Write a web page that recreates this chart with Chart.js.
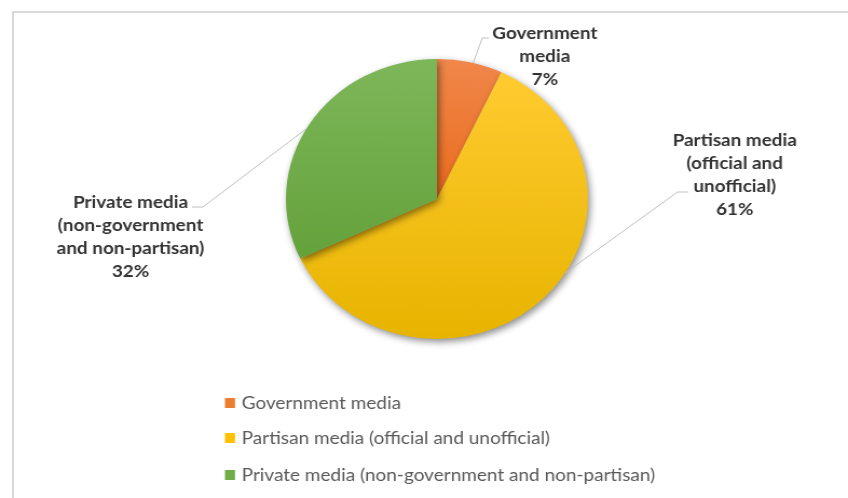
<!DOCTYPE html>
<html>
<head>
<meta charset="utf-8">
<title>Media ownership</title>
<script src="https://cdn.jsdelivr.net/npm/chart.js@4.4.0/dist/chart.umd.min.js"></script>
<style>
  html, body { margin: 0; padding: 0; background: #ffffff; overflow: hidden; }
  /* drawn at 786px wide and stretched to fill the 848px slot */
  #wrap { width: 786px; height: 498px; transform: scaleX(1.0789); transform-origin: 0 0; }
</style>
</head>
<body>
<div id="wrap"><canvas id="mediaPie" width="786" height="498"></canvas></div>
<script>
// --- Data ---
const categories = [
    'Government media',
    'Partisan media (official and unofficial)',
    'Private media (non-government and non-partisan)'
];
const shares = [7, 61, 32];

// wrapped versions of the category names used for the slice labels
const labelLines = [
    ['Government', 'media'],
    ['Partisan media', '(official and', 'unofficial)'],
    ['Private media', '(non-government', 'and non-partisan)']
];

// --- Styling ---
const solidColors = ['#ED7D31', '#FFC000', '#70AD47'];
const gradientStops = [
    ['#F0874A', '#EB6C1E'],
    ['#FFCB30', '#E7B400'],
    ['#7EB75A', '#64A23B']
];

// label placement: text centre, first line y, elbow of the leader line, and
// where along the slice the leader meets the edge (0..1)
const labelLayout = [
    { x: 505, y: 33, elbow: [447, 38], end: [453, 38], along: 0.55 },
    { x: 681, y: 140, elbow: [628, 192], end: [638, 192], along: 0.44 },
    { x: 121, y: 202, elbow: [188, 207], end: [178, 207], along: 0.48 }
];
const lineHeight = 23;
const labelFont = "bold 17.5px Lato, 'Open Sans', sans-serif";
const legendFont = "17.6px Lato, 'Open Sans', sans-serif";
const legendRows = [403, 438, 475];

// --- Plugins ---
const framePlugin = {
    id: 'frame',
    beforeDraw(chart) {
        const ctx = chart.ctx;
        ctx.save();
        ctx.strokeStyle = '#D9D9D9';
        ctx.lineWidth = 2;
        ctx.beginPath();
        ctx.moveTo(12, chart.height);
        ctx.lineTo(12, 12);
        ctx.lineTo(chart.width, 12);
        ctx.stroke();
        ctx.restore();
    }
};

const shadowPlugin = {
    id: 'pieShadow',
    beforeDatasetsDraw(chart) {
        const ctx = chart.ctx;
        ctx.save();
        ctx.shadowColor = 'rgba(0, 0, 0, 0.45)';
        ctx.shadowBlur = 7;
        ctx.shadowOffsetX = 2;
        ctx.shadowOffsetY = 3;
    },
    afterDatasetsDraw(chart) {
        chart.ctx.restore();
    }
};

const sliceLabelPlugin = {
    id: 'sliceLabels',
    afterDatasetsDraw(chart) {
        const ctx = chart.ctx;
        const arcs = chart.getDatasetMeta(0).data;
        const values = chart.data.datasets[0].data;
        ctx.save();
        arcs.forEach((arc, i) => {
            const lay = labelLayout[i];
            const a = arc.startAngle + (arc.endAngle - arc.startAngle) * lay.along;
            const ex = arc.x + Math.cos(a) * arc.outerRadius;
            const ey = arc.y + Math.sin(a) * arc.outerRadius;

            // leader line
            ctx.strokeStyle = '#BFBFBF';
            ctx.lineWidth = 1;
            ctx.beginPath();
            ctx.moveTo(ex, ey);
            ctx.lineTo(lay.elbow[0], lay.elbow[1]);
            ctx.lineTo(lay.end[0], lay.end[1]);
            ctx.stroke();

            // label text
            ctx.fillStyle = '#333333';
            ctx.font = labelFont;
            ctx.textAlign = 'center';
            ctx.textBaseline = 'middle';
            const lines = labelLines[i].concat([values[i] + '%']);
            lines.forEach((t, k) => ctx.fillText(t, lay.x, lay.y + k * lineHeight));
        });
        ctx.restore();
    }
};

const listLegendPlugin = {
    id: 'listLegend',
    afterDraw(chart) {
        const ctx = chart.ctx;
        ctx.save();
        ctx.font = legendFont;
        ctx.textAlign = 'left';
        ctx.textBaseline = 'middle';
        chart.data.labels.forEach((name, i) => {
            const y = legendRows[i];
            ctx.fillStyle = solidColors[i];
            ctx.fillRect(208.5, y - 5, 9.3, 10);
            ctx.fillStyle = '#595959';
            ctx.fillText(name, 224, y);
        });
        ctx.restore();
    }
};

// vertical extent of slice i, worked out from the shares (clockwise from 12 o'clock)
function sliceYRange(i, cy, r) {
    const total = shares.reduce((s, v) => s + v, 0);
    const before = shares.slice(0, i).reduce((s, v) => s + v, 0);
    const t0 = before / total * 2 * Math.PI;
    const t1 = (before + shares[i]) / total * 2 * Math.PI;
    const ys = [cy, cy - r * Math.cos(t0), cy - r * Math.cos(t1)];
    if (t0 <= Math.PI && t1 >= Math.PI) ys.push(cy + r);
    if (t0 === 0) ys.push(cy - r);
    return [Math.min(...ys), Math.max(...ys)];
}

// vertical gradient over each slice's own height
function sliceFill(context) {
    const chart = context.chart;
    const area = chart.chartArea;
    if (!area) return solidColors[context.dataIndex];
    const cy = (area.top + area.bottom) / 2;
    const r = Math.min(area.right - area.left, area.bottom - area.top) / 2;
    const [y0, y1] = sliceYRange(context.dataIndex, cy, r);
    const stops = gradientStops[context.dataIndex];
    const g = chart.ctx.createLinearGradient(0, y0, 0, y1);
    g.addColorStop(0, stops[0]);
    g.addColorStop(1, stops[1]);
    return g;
}

// --- Chart ---
new Chart(document.getElementById('mediaPie'), {
    type: 'pie',
    data: {
        labels: categories,
        datasets: [{
            data: shares,
            backgroundColor: sliceFill,
            borderWidth: 0
        }]
    },
    options: {
        responsive: false,
        animation: false,
        devicePixelRatio: 1,
        layout: {
            padding: { left: 265, right: 241, top: 59, bottom: 159 }
        },
        plugins: {
            legend: { display: false },
            tooltip: { enabled: false }
        }
    },
    plugins: [framePlugin, shadowPlugin, sliceLabelPlugin, listLegendPlugin]
});
</script>
</body>
</html>
